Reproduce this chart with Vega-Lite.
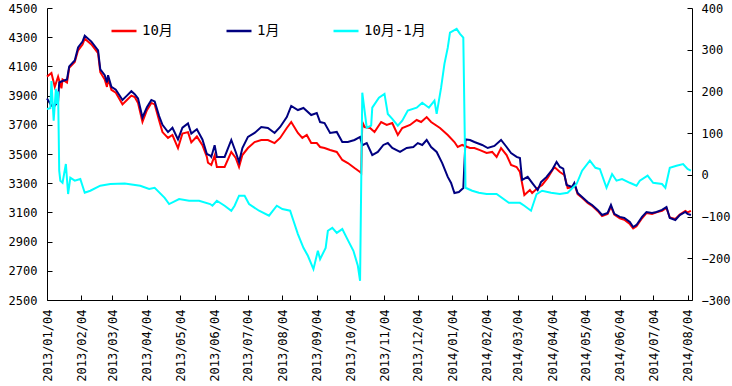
{
  "$schema": "https://vega.github.io/schema/vega-lite/v6.json",
  "width": 645,
  "height": 292,
  "autosize": "none",
  "padding": {"left": 47, "top": 8, "right": 40, "bottom": 86},
  "background": "white",
  "datasets": {
    "oct": [
      {"d":"2013-01-04","v":4030},{"d":"2013-01-08","v":4055},{"d":"2013-01-11","v":3960},{"d":"2013-01-14","v":4030},{"d":"2013-01-17","v":3950},{"d":"2013-01-18","v":4010},{"d":"2013-01-22","v":3990},{"d":"2013-01-24","v":4090},{"d":"2013-01-29","v":4130},{"d":"2013-02-01","v":4210},{"d":"2013-02-05","v":4250},{"d":"2013-02-07","v":4290},{"d":"2013-02-13","v":4250},{"d":"2013-02-19","v":4190},{"d":"2013-02-21","v":4060},{"d":"2013-02-25","v":4010},{"d":"2013-02-27","v":3960},{"d":"2013-02-28","v":4020},{"d":"2013-03-03","v":3940},{"d":"2013-03-07","v":3920},{"d":"2013-03-13","v":3840},{"d":"2013-03-17","v":3870},{"d":"2013-03-21","v":3900},{"d":"2013-03-24","v":3890},{"d":"2013-03-27","v":3850},{"d":"2013-03-31","v":3720},{"d":"2013-04-04","v":3800},{"d":"2013-04-08","v":3850},{"d":"2013-04-11","v":3840},{"d":"2013-04-15","v":3730},{"d":"2013-04-18","v":3650},{"d":"2013-04-23","v":3610},{"d":"2013-04-27","v":3630},{"d":"2013-05-02","v":3540},{"d":"2013-05-06","v":3640},{"d":"2013-05-11","v":3650},{"d":"2013-05-14","v":3580},{"d":"2013-05-19","v":3620},{"d":"2013-05-24","v":3560},{"d":"2013-05-28","v":3480},{"d":"2013-05-29","v":3440},{"d":"2013-06-01","v":3425},{"d":"2013-06-04","v":3490},{"d":"2013-06-06","v":3411},{"d":"2013-06-13","v":3411},{"d":"2013-06-19","v":3514},{"d":"2013-06-23","v":3473},{"d":"2013-06-26","v":3411},{"d":"2013-06-29","v":3493},{"d":"2013-07-04","v":3541},{"d":"2013-07-10","v":3582},{"d":"2013-07-16","v":3596},{"d":"2013-07-22","v":3596},{"d":"2013-07-28","v":3575},{"d":"2013-08-02","v":3610},{"d":"2013-08-08","v":3678},{"d":"2013-08-12","v":3719},{"d":"2013-08-18","v":3644},{"d":"2013-08-22","v":3610},{"d":"2013-08-26","v":3630},{"d":"2013-08-30","v":3575},{"d":"2013-09-04","v":3575},{"d":"2013-09-07","v":3548},{"d":"2013-09-11","v":3541},{"d":"2013-09-16","v":3527},{"d":"2013-09-22","v":3514},{"d":"2013-09-27","v":3459},{"d":"2013-10-02","v":3438},{"d":"2013-10-08","v":3404},{"d":"2013-10-13","v":3377},{"d":"2013-10-14","v":3370},{"d":"2013-10-15","v":3720},{"d":"2013-10-17","v":3685},{"d":"2013-10-22","v":3678},{"d":"2013-10-26","v":3651},{"d":"2013-11-01","v":3719},{"d":"2013-11-06","v":3699},{"d":"2013-11-11","v":3712},{"d":"2013-11-16","v":3630},{"d":"2013-11-20","v":3678},{"d":"2013-11-27","v":3699},{"d":"2013-12-03","v":3733},{"d":"2013-12-07","v":3719},{"d":"2013-12-12","v":3753},{"d":"2013-12-16","v":3719},{"d":"2013-12-24","v":3678},{"d":"2013-12-31","v":3630},{"d":"2014-01-06","v":3582},{"d":"2014-01-09","v":3548},{"d":"2014-01-13","v":3562},{"d":"2014-01-20","v":3541},{"d":"2014-01-24","v":3541},{"d":"2014-01-29","v":3527},{"d":"2014-02-04","v":3507},{"d":"2014-02-09","v":3514},{"d":"2014-02-13","v":3480},{"d":"2014-02-17","v":3541},{"d":"2014-02-22","v":3493},{"d":"2014-02-26","v":3425},{"d":"2014-03-03","v":3411},{"d":"2014-03-06","v":3377},{"d":"2014-03-10","v":3219},{"d":"2014-03-15","v":3253},{"d":"2014-03-17","v":3233},{"d":"2014-03-22","v":3267},{"d":"2014-03-26","v":3288},{"d":"2014-03-31","v":3336},{"d":"2014-04-06","v":3411},{"d":"2014-04-11","v":3377},{"d":"2014-04-15","v":3356},{"d":"2014-04-18","v":3267},{"d":"2014-04-22","v":3274},{"d":"2014-04-24","v":3295},{"d":"2014-04-27","v":3225},{"d":"2014-05-01","v":3200},{"d":"2014-05-06","v":3165},{"d":"2014-05-10","v":3145},{"d":"2014-05-15","v":3110},{"d":"2014-05-19","v":3075},{"d":"2014-05-24","v":3090},{"d":"2014-05-27","v":3140},{"d":"2014-05-30","v":3085},{"d":"2014-06-04","v":3060},{"d":"2014-06-08","v":3050},{"d":"2014-06-13","v":3020},{"d":"2014-06-16","v":2990},{"d":"2014-06-19","v":3005},{"d":"2014-06-24","v":3060},{"d":"2014-06-28","v":3095},{"d":"2014-07-03","v":3090},{"d":"2014-07-07","v":3100},{"d":"2014-07-12","v":3110},{"d":"2014-07-16","v":3130},{"d":"2014-07-19","v":3065},{"d":"2014-07-24","v":3055},{"d":"2014-07-28","v":3085},{"d":"2014-08-02","v":3110},{"d":"2014-08-04","v":3100},{"d":"2014-08-07","v":3110}
    ],
    "jan": [
      {"d":"2013-01-04","v":3880},{"d":"2013-01-08","v":3830},{"d":"2013-01-11","v":3830},{"d":"2013-01-14","v":3860},{"d":"2013-01-15","v":3990},{"d":"2013-01-18","v":4000},{"d":"2013-01-22","v":4010},{"d":"2013-01-24","v":4100},{"d":"2013-01-29","v":4140},{"d":"2013-02-01","v":4230},{"d":"2013-02-05","v":4270},{"d":"2013-02-07","v":4310},{"d":"2013-02-13","v":4270},{"d":"2013-02-19","v":4210},{"d":"2013-02-21","v":4080},{"d":"2013-02-25","v":4040},{"d":"2013-02-27","v":3990},{"d":"2013-02-28","v":4040},{"d":"2013-03-03","v":3960},{"d":"2013-03-07","v":3940},{"d":"2013-03-13","v":3870},{"d":"2013-03-17","v":3900},{"d":"2013-03-21","v":3930},{"d":"2013-03-24","v":3910},{"d":"2013-03-27","v":3880},{"d":"2013-03-31","v":3750},{"d":"2013-04-04","v":3820},{"d":"2013-04-08","v":3870},{"d":"2013-04-11","v":3860},{"d":"2013-04-15","v":3760},{"d":"2013-04-18","v":3700},{"d":"2013-04-23","v":3650},{"d":"2013-04-27","v":3680},{"d":"2013-05-02","v":3600},{"d":"2013-05-06","v":3680},{"d":"2013-05-11","v":3710},{"d":"2013-05-14","v":3640},{"d":"2013-05-19","v":3670},{"d":"2013-05-24","v":3600},{"d":"2013-05-28","v":3500},{"d":"2013-05-31","v":3490},{"d":"2013-06-01","v":3480},{"d":"2013-06-04","v":3560},{"d":"2013-06-06","v":3480},{"d":"2013-06-13","v":3480},{"d":"2013-06-19","v":3596},{"d":"2013-06-23","v":3514},{"d":"2013-06-26","v":3445},{"d":"2013-06-29","v":3541},{"d":"2013-07-04","v":3617},{"d":"2013-07-10","v":3644},{"d":"2013-07-16","v":3685},{"d":"2013-07-22","v":3678},{"d":"2013-07-28","v":3644},{"d":"2013-08-02","v":3685},{"d":"2013-08-08","v":3753},{"d":"2013-08-12","v":3829},{"d":"2013-08-18","v":3801},{"d":"2013-08-23","v":3815},{"d":"2013-08-30","v":3767},{"d":"2013-09-04","v":3781},{"d":"2013-09-07","v":3719},{"d":"2013-09-11","v":3712},{"d":"2013-09-16","v":3644},{"d":"2013-09-22","v":3651},{"d":"2013-09-27","v":3582},{"d":"2013-10-02","v":3582},{"d":"2013-10-08","v":3596},{"d":"2013-10-13","v":3617},{"d":"2013-10-15","v":3560},{"d":"2013-10-19","v":3575},{"d":"2013-10-24","v":3493},{"d":"2013-10-29","v":3514},{"d":"2013-11-03","v":3562},{"d":"2013-11-07","v":3575},{"d":"2013-11-11","v":3541},{"d":"2013-11-18","v":3514},{"d":"2013-11-24","v":3541},{"d":"2013-11-30","v":3548},{"d":"2013-12-04","v":3575},{"d":"2013-12-08","v":3562},{"d":"2013-12-12","v":3596},{"d":"2013-12-16","v":3548},{"d":"2013-12-21","v":3514},{"d":"2013-12-26","v":3438},{"d":"2013-12-31","v":3343},{"d":"2014-01-03","v":3302},{"d":"2014-01-06","v":3233},{"d":"2014-01-10","v":3240},{"d":"2014-01-14","v":3267},{"d":"2014-01-16","v":3600},{"d":"2014-01-20","v":3596},{"d":"2014-01-24","v":3582},{"d":"2014-01-31","v":3562},{"d":"2014-02-05","v":3541},{"d":"2014-02-11","v":3555},{"d":"2014-02-17","v":3596},{"d":"2014-02-22","v":3548},{"d":"2014-02-26","v":3507},{"d":"2014-03-03","v":3480},{"d":"2014-03-06","v":3473},{"d":"2014-03-08","v":3322},{"d":"2014-03-13","v":3343},{"d":"2014-03-17","v":3302},{"d":"2014-03-22","v":3253},{"d":"2014-03-25","v":3308},{"d":"2014-03-30","v":3343},{"d":"2014-04-04","v":3391},{"d":"2014-04-08","v":3445},{"d":"2014-04-11","v":3411},{"d":"2014-04-14","v":3400},{"d":"2014-04-17","v":3288},{"d":"2014-04-22","v":3274},{"d":"2014-04-24","v":3302},{"d":"2014-04-27","v":3233},{"d":"2014-05-01","v":3206},{"d":"2014-05-06","v":3171},{"d":"2014-05-10","v":3151},{"d":"2014-05-15","v":3117},{"d":"2014-05-19","v":3082},{"d":"2014-05-24","v":3096},{"d":"2014-05-27","v":3151},{"d":"2014-05-30","v":3090},{"d":"2014-06-04","v":3069},{"d":"2014-06-08","v":3062},{"d":"2014-06-13","v":3034},{"d":"2014-06-16","v":3000},{"d":"2014-06-19","v":3014},{"d":"2014-06-24","v":3069},{"d":"2014-06-28","v":3103},{"d":"2014-07-03","v":3096},{"d":"2014-07-07","v":3103},{"d":"2014-07-12","v":3117},{"d":"2014-07-16","v":3137},{"d":"2014-07-19","v":3062},{"d":"2014-07-24","v":3048},{"d":"2014-07-28","v":3082},{"d":"2014-08-02","v":3103},{"d":"2014-08-04","v":3090},{"d":"2014-08-07","v":3082}
    ],
    "spread": [
      {"d":"2013-01-04","v":158},{"d":"2013-01-07","v":160},{"d":"2013-01-08","v":225},{"d":"2013-01-10","v":130},{"d":"2013-01-12","v":206},{"d":"2013-01-13","v":170},{"d":"2013-01-14","v":200},{"d":"2013-01-15","v":10},{"d":"2013-01-16","v":-14},{"d":"2013-01-18","v":-19},{"d":"2013-01-21","v":26},{"d":"2013-01-23","v":-46},{"d":"2013-01-25","v":-7},{"d":"2013-01-29","v":-14},{"d":"2013-02-03","v":-10},{"d":"2013-02-07","v":-43},{"d":"2013-02-12","v":-38},{"d":"2013-02-21","v":-26},{"d":"2013-03-02","v":-22},{"d":"2013-03-15","v":-21},{"d":"2013-03-29","v":-26},{"d":"2013-04-06","v":-34},{"d":"2013-04-11","v":-31},{"d":"2013-04-20","v":-55},{"d":"2013-04-24","v":-70},{"d":"2013-05-03","v":-58},{"d":"2013-05-12","v":-62},{"d":"2013-05-21","v":-62},{"d":"2013-05-31","v":-70},{"d":"2013-06-02","v":-74},{"d":"2013-06-06","v":-62},{"d":"2013-06-13","v":-74},{"d":"2013-06-19","v":-86},{"d":"2013-06-22","v":-74},{"d":"2013-06-26","v":-50},{"d":"2013-07-01","v":-50},{"d":"2013-07-05","v":-70},{"d":"2013-07-14","v":-86},{"d":"2013-07-23","v":-98},{"d":"2013-07-30","v":-74},{"d":"2013-08-04","v":-82},{"d":"2013-08-11","v":-86},{"d":"2013-08-14","v":-110},{"d":"2013-08-18","v":-142},{"d":"2013-08-23","v":-175},{"d":"2013-08-27","v":-194},{"d":"2013-09-01","v":-226},{"d":"2013-09-05","v":-182},{"d":"2013-09-07","v":-202},{"d":"2013-09-12","v":-175},{"d":"2013-09-14","v":-134},{"d":"2013-09-18","v":-127},{"d":"2013-09-22","v":-139},{"d":"2013-09-27","v":-130},{"d":"2013-10-01","v":-151},{"d":"2013-10-07","v":-182},{"d":"2013-10-11","v":-218},{"d":"2013-10-13","v":-254},{"d":"2013-10-15","v":197},{"d":"2013-10-19","v":113},{"d":"2013-10-23","v":118},{"d":"2013-10-24","v":161},{"d":"2013-10-30","v":185},{"d":"2013-11-04","v":194},{"d":"2013-11-07","v":146},{"d":"2013-11-11","v":134},{"d":"2013-11-16","v":118},{"d":"2013-11-20","v":130},{"d":"2013-11-25","v":154},{"d":"2013-12-03","v":161},{"d":"2013-12-08","v":173},{"d":"2013-12-14","v":161},{"d":"2013-12-19","v":178},{"d":"2013-12-21","v":146},{"d":"2013-12-25","v":209},{"d":"2013-12-28","v":266},{"d":"2013-12-31","v":305},{"d":"2014-01-02","v":341},{"d":"2014-01-08","v":350},{"d":"2014-01-11","v":338},{"d":"2014-01-14","v":329},{"d":"2014-01-16","v":-31},{"d":"2014-01-22","v":-38},{"d":"2014-01-28","v":-43},{"d":"2014-02-04","v":-46},{"d":"2014-02-13","v":-46},{"d":"2014-02-24","v":-67},{"d":"2014-03-06","v":-67},{"d":"2014-03-10","v":-74},{"d":"2014-03-16","v":-86},{"d":"2014-03-21","v":-46},{"d":"2014-03-26","v":-38},{"d":"2014-04-03","v":-43},{"d":"2014-04-11","v":-46},{"d":"2014-04-18","v":-43},{"d":"2014-04-26","v":-22},{"d":"2014-05-01","v":10},{"d":"2014-05-08","v":34},{"d":"2014-05-13","v":17},{"d":"2014-05-17","v":14},{"d":"2014-05-23","v":-31},{"d":"2014-05-28","v":2},{"d":"2014-06-01","v":-14},{"d":"2014-06-06","v":-10},{"d":"2014-06-13","v":-19},{"d":"2014-06-19","v":-26},{"d":"2014-06-22","v":-14},{"d":"2014-06-29","v":-2},{"d":"2014-07-04","v":-19},{"d":"2014-07-12","v":-22},{"d":"2014-07-15","v":-31},{"d":"2014-07-19","v":17},{"d":"2014-07-25","v":22},{"d":"2014-07-31","v":26},{"d":"2014-08-04","v":14},{"d":"2014-08-07","v":10}
    ]
  },
  "encoding": {
    "x": {
      "field": "d",
      "type": "temporal",
      "scale": {"type": "utc", "domain": [{"year": 2013, "month": 1, "date": 4, "utc": true}, {"year": 2014, "month": 8, "date": 8, "utc": true}]},
      "axis": {
        "title": null,
        "format": "%Y/%m/%d",
        "labelAngle": -90,
        "values": [
          {"year":2013,"month":1,"date":4,"utc":true},{"year":2013,"month":2,"date":4,"utc":true},{"year":2013,"month":3,"date":4,"utc":true},{"year":2013,"month":4,"date":4,"utc":true},{"year":2013,"month":5,"date":4,"utc":true},{"year":2013,"month":6,"date":4,"utc":true},{"year":2013,"month":7,"date":4,"utc":true},{"year":2013,"month":8,"date":4,"utc":true},{"year":2013,"month":9,"date":4,"utc":true},{"year":2013,"month":10,"date":4,"utc":true},{"year":2013,"month":11,"date":4,"utc":true},{"year":2013,"month":12,"date":4,"utc":true},{"year":2014,"month":1,"date":4,"utc":true},{"year":2014,"month":2,"date":4,"utc":true},{"year":2014,"month":3,"date":4,"utc":true},{"year":2014,"month":4,"date":4,"utc":true},{"year":2014,"month":5,"date":4,"utc":true},{"year":2014,"month":6,"date":4,"utc":true},{"year":2014,"month":7,"date":4,"utc":true},{"year":2014,"month":8,"date":4,"utc":true}
        ],
        "labelOverlap": false,
        "labelFlush": false,
        "labelBound": false,
        "labelPadding": 14,
        "tickSize": -5
      }
    }
  },
  "layer": [
    {
      "encoding": {
        "y": {
          "field": "v",
          "type": "quantitative",
          "scale": {"domain": [2500, 4500], "nice": false, "zero": false},
          "axis": {"title": null, "format": "d", "values": [2500,2700,2900,3100,3300,3500,3700,3900,4100,4300,4500], "tickSize": -5, "labelPadding": 15, "labelFlush": false}
        }
      },
      "layer": [
        {
          "data": {"name": "oct"},
          "mark": {"type": "line", "strokeWidth": 2},
          "encoding": {
            "color": {
              "datum": "10月",
              "type": "nominal",
              "scale": {"domain": ["10月", "1月", "10月-1月"], "range": ["#ff0000", "#000080", "#00ffff"]},
              "legend": {
                "title": null,
                "orient": "none",
                "legendX": 63,
                "legendY": 9,
                "direction": "horizontal",
                "symbolType": "stroke",
                "symbolSize": 625,
                "symbolStrokeWidth": 2.5,
                "labelFont": "DejaVu Sans Mono, Noto Sans CJK SC",
                "labelFontSize": 14,
                "labelColor": "black",
                "labelOffset": 4,
                "columnPadding": 48
              }
            }
          }
        },
        {
          "data": {"name": "jan"},
          "mark": {"type": "line", "strokeWidth": 2},
          "encoding": {"color": {"datum": "1月", "type": "nominal"}}
        }
      ]
    },
    {
      "data": {"name": "spread"},
      "mark": {"type": "line", "strokeWidth": 2},
      "encoding": {
        "y": {
          "field": "v",
          "type": "quantitative",
          "scale": {"domain": [-300, 400], "nice": false, "zero": false},
          "axis": {"title": null, "format": "d", "orient": "right", "values": [-300,-200,-100,0,100,200,300,400], "tickSize": -5, "labelPadding": 14, "labelFlush": false}
        },
        "color": {"datum": "10月-1月", "type": "nominal"}
      }
    }
  ],
  "resolve": {"scale": {"y": "independent"}},
  "config": {
    "view": {"stroke": null},
    "axis": {
      "grid": false,
      "domainColor": "black",
      "tickColor": "black",
      "labelColor": "black",
      "labelFont": "DejaVu Sans Mono",
      "labelFontSize": 12
    }
  }
}
